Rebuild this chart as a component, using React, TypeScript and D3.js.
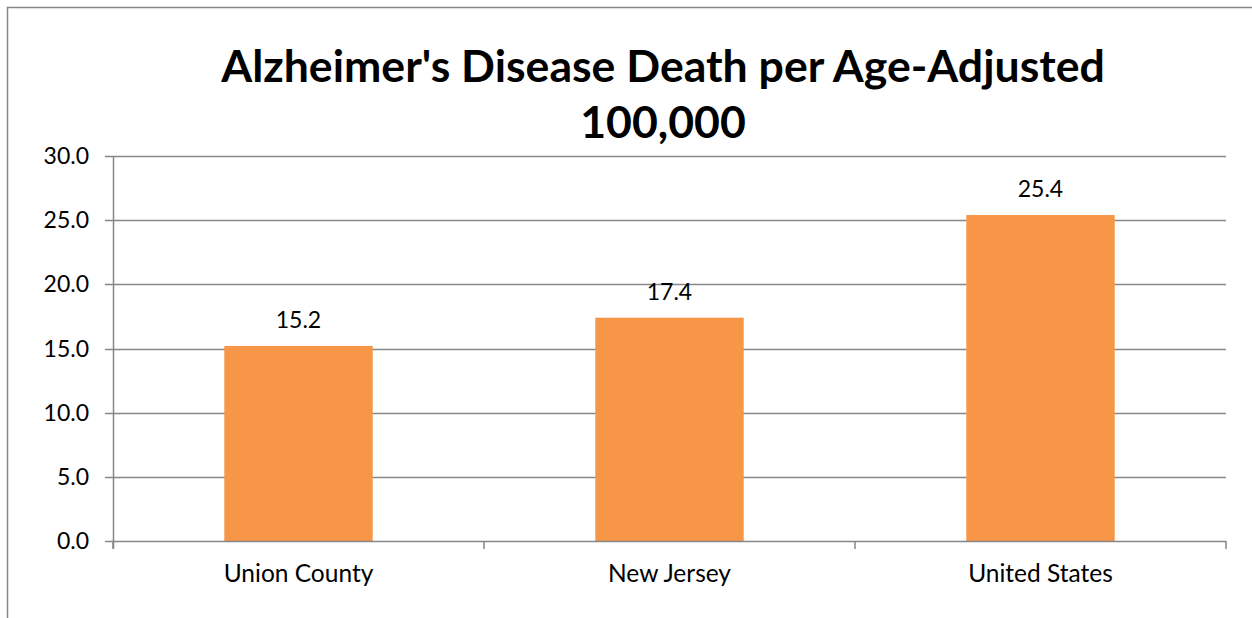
import React from "react";
import * as d3 from "d3";

const categories = ["Union County", "New Jersey", "United States"];
const values = [15.2, 17.4, 25.4];
const yTicks = [0, 5, 10, 15, 20, 25, 30];
const titleLines = ["Alzheimer's Disease Death per Age-Adjusted", "100,000"];

const W = 1252;
const H = 618;
const plot = { left: 113, right: 1226, top: 156, bottom: 541 };
const grey = "#868686";
const font = "Lato, 'Open Sans', sans-serif";

export default function App() {
  const x = d3
    .scaleBand<string>()
    .domain(categories)
    .range([plot.left, plot.right])
    .paddingInner(0.6)
    .paddingOuter(0.3);
  const y = d3.scaleLinear().domain([0, 30]).range([plot.bottom, plot.top]);
  const bandStep = (plot.right - plot.left) / categories.length;
  const boundaries = d3.range(categories.length + 1).map((i) => plot.left + i * bandStep);

  return (
    <svg width={W} height={H} style={{ position: "absolute", left: 0, top: 0 }} fontFamily={font}>
      <rect x={0} y={0} width={W} height={H} fill="#fff" />
      <rect x={7.5} y={7.5} width={W + 20} height={H + 20} fill="none" stroke={grey} strokeWidth={1.5} />
      {titleLines.map((t, i) => (
        <text key={i} x={663} y={82 + i * 56} textAnchor="middle" fontSize={44.6} fontWeight="bold" fill="#000">
          {t}
        </text>
      ))}
      {yTicks.map((t) => (
        <g key={t}>
          {t > 0 && (
            <line x1={plot.left} x2={plot.right} y1={Math.round(y(t)) + 0.5} y2={Math.round(y(t)) + 0.5} stroke={grey} strokeWidth={1.5} />
          )}
          <line x1={105} x2={plot.left} y1={Math.round(y(t)) + 0.5} y2={Math.round(y(t)) + 0.5} stroke={grey} strokeWidth={1.5} />
          <text x={89} y={y(t) + 8} textAnchor="end" fontSize={23} fill="#000">
            {t.toFixed(1)}
          </text>
        </g>
      ))}
      {categories.map((c, i) => (
        <g key={c}>
          <rect x={x(c)} y={y(values[i])} width={x.bandwidth()} height={plot.bottom - y(values[i])} fill="#F79646" />
          <text x={(x(c) as number) + x.bandwidth() / 2} y={y(values[i]) - 18} textAnchor="middle" fontSize={23} fill="#000">
            {values[i].toFixed(1)}
          </text>
          <text x={(x(c) as number) + x.bandwidth() / 2} y={582} textAnchor="middle" fontSize={24.5} fill="#000">
            {c}
          </text>
        </g>
      ))}
      <line x1={plot.left + 0.5} x2={plot.left + 0.5} y1={plot.top} y2={549} stroke={grey} strokeWidth={1.5} />
      <line x1={plot.left} x2={plot.right} y1={plot.bottom + 0.5} y2={plot.bottom + 0.5} stroke={grey} strokeWidth={1.5} />
      {boundaries.map((b, i) => (
        <line key={i} x1={b} x2={b} y1={plot.bottom} y2={549} stroke={grey} strokeWidth={1.5} />
      ))}
    </svg>
  );
}
